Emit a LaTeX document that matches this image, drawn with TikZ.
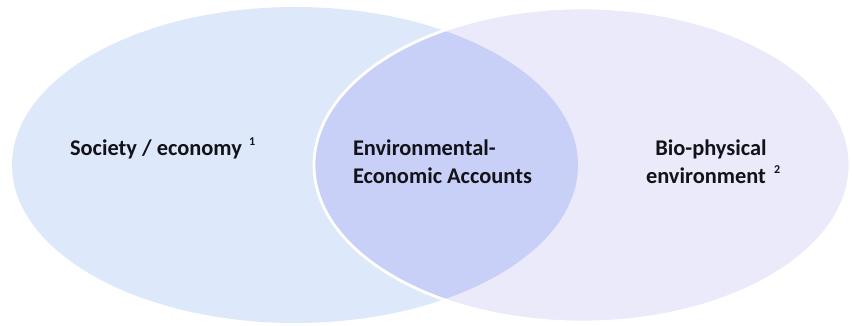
\documentclass[tikz,border=0pt]{standalone}
\usepackage{fontspec}
\setmainfont{Carlito}
\definecolor{leftfill}{RGB}{222,232,251}
\definecolor{rightfill}{RGB}{234,234,251}
\definecolor{lensfill}{RGB}{201,208,247}
\definecolor{txt}{RGB}{18,18,24}
\begin{document}
\begin{tikzpicture}[x=1pt,y=-1pt,
  lbl/.style={font=\fontsize{22.4}{28}\selectfont\bfseries, text=txt, inner sep=0pt, outer sep=0pt},
  sup/.style={font=\fontsize{12}{13}\selectfont\bfseries, text=txt, inner sep=0pt}]
\useasboundingbox (0,0) rectangle (852,326);
\fill[leftfill] (295,165) ellipse [x radius=283, y radius=158];
\fill[rightfill] (582,165) ellipse [x radius=268, y radius=157];
\begin{scope}
  \clip (295,165) ellipse [x radius=283, y radius=158];
  \fill[lensfill] (582,165) ellipse [x radius=268, y radius=157];
\end{scope}
\draw[white, line width=2.8pt] (582,165) ellipse [x radius=268, y radius=157];
\node[lbl, anchor=base west] (soc) at (70,156) {Society / economy};
\node[sup, anchor=base west] (sup1) at (249,146) {1};
\node[lbl, anchor=base west] (env1) at (353,156) {Environmental-};
\node[lbl, anchor=base west] (env2) at (353,184) {Economic Accounts};
\node[lbl, anchor=base] (bio1) at (711,156) {Bio-physical};
\node[lbl, anchor=base west] (bio2) at (646,184) {environment};
\node[sup, anchor=base west] (sup2) at (774,174) {2};
\end{tikzpicture}
\end{document}
